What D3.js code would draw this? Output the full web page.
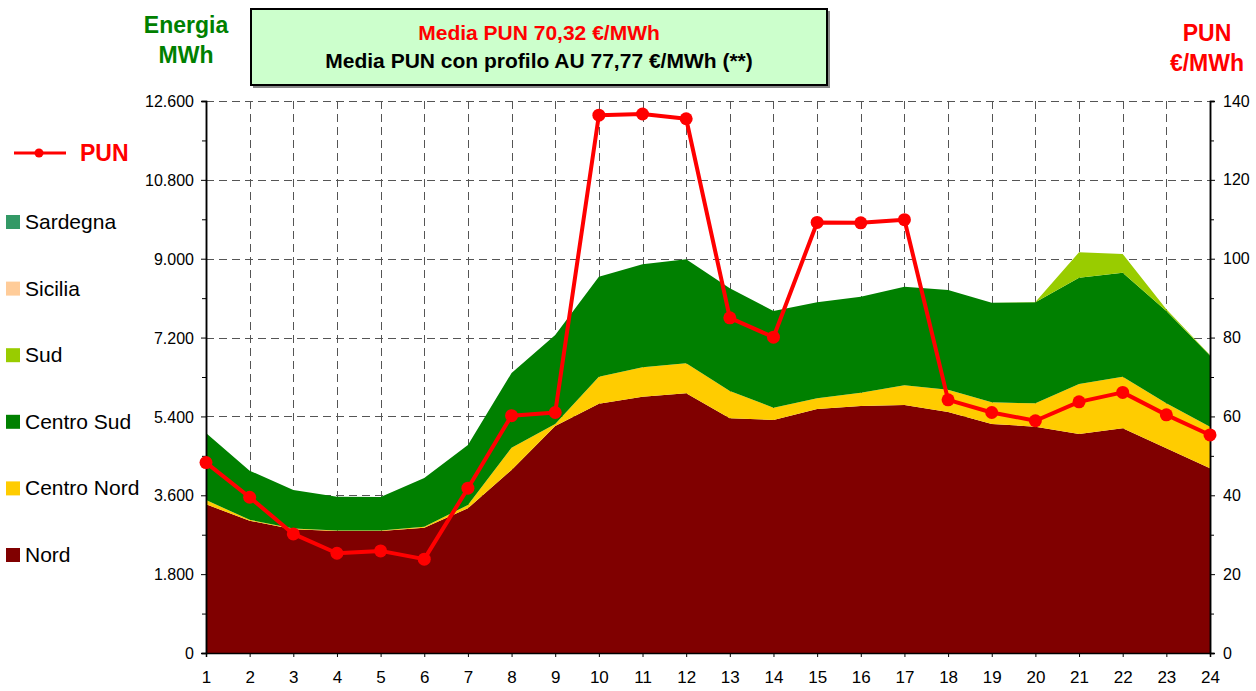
<!DOCTYPE html>
<html>
<head>
<meta charset="utf-8">
<script src="https://cdn.jsdelivr.net/npm/d3@7"></script>
<style>
  body { margin: 0; background: #fff; }
  svg { font-family: "Liberation Sans", Arial, sans-serif; }
</style>
</head>
<body>
<svg id="chart" width="1256" height="691"></svg>
<script>
const hours = d3.range(1, 25)

// MWh per zona
const nord = [3394, 3020, 2823, 2785, 2785, 2860, 3302, 4180, 5180, 5691, 5851, 5927, 5357, 5319, 5570, 5638, 5661, 5500, 5227, 5166, 4999, 5128, 4672, 4215]
const centroNord = [98, 20, 17, 10, 10, 20, 76, 507, 50, 616, 670, 685, 623, 281, 243, 304, 449, 510, 495, 533, 1141, 1179, 1027, 951]
const centroSud = [1530, 1122, 881, 773, 765, 1115, 1370, 1704, 2029, 2283, 2352, 2375, 2345, 2207, 2192, 2192, 2252, 2276, 2275, 2306, 2427, 2374, 2108, 1624]
const sud = [0, 0, 0, 0, 0, 0, 0, 0, 0, 0, 0, 0, 0, 0, 0, 0, 0, 0, 0, 5, 580, 427, 38, 12]
const sicilia = new Array(24).fill(0)
const sardegna = new Array(24).fill(0)

// PUN €/MWh
const pun = [48.3, 39.5, 30.2, 25.3, 25.9, 23.8, 41.8, 60.2, 61.0, 136.4, 136.7, 135.5, 85.0, 80.1, 109.2, 109.1, 109.9, 64.2, 61.0, 58.9, 63.7, 66.1, 60.4, 55.3]

const zones = ['Nord', 'Centro Nord', 'Centro Sud', 'Sud', 'Sicilia', 'Sardegna']
const zoneColors = ['#800000', '#ffcc00', '#008000', '#99cc00', '#ffcc99', '#339966']
const leftTicks = d3.range(0, 12601, 1800)
const rightTicks = d3.range(0, 141, 20)

const rows = hours.map((h, i) => ({
  hour: h,
  'Nord': nord[i],
  'Centro Nord': centroNord[i],
  'Centro Sud': centroSud[i],
  'Sud': sud[i],
  'Sicilia': sicilia[i],
  'Sardegna': sardegna[i]
}))

const svg = d3.select('#chart')
const x0 = 206, x1 = 1210, yTop = 101, yBot = 653

const x = d3.scaleLinear().domain([1, 24]).range([x0, x1])
const yL = d3.scaleLinear().domain([0, 12600]).range([yBot, yTop])
const yR = d3.scaleLinear().domain([0, 140]).range([yBot, yTop])

const fmt = d3.formatLocale({ decimal: ',', thousands: '.', grouping: [3], currency: ['', '€'] }).format(',d')

// griglia
const grid = svg.append('g')
  .attr('stroke', '#555')
  .attr('stroke-width', 1)
  .attr('stroke-dasharray', '8,5')
grid.selectAll('.hg')
  .data(leftTicks.filter(d => d > 0))
  .enter().append('line')
  .attr('x1', x0).attr('x2', x1)
  .attr('y1', d => Math.round(yL(d)) + 0.5)
  .attr('y2', d => Math.round(yL(d)) + 0.5)
grid.selectAll('.vg')
  .data(hours.slice(1, 23))
  .enter().append('line')
  .attr('y1', yTop).attr('y2', yBot)
  .attr('x1', d => Math.round(x(d)) + 0.5)
  .attr('x2', d => Math.round(x(d)) + 0.5)

// aree impilate
const stack = d3.stack().keys(zones)
const series = stack(rows)
const area = d3.area()
  .x(d => x(d.data.hour))
  .y0(d => yL(d[0]))
  .y1(d => yL(d[1]))

svg.append('g').selectAll('path')
  .data(series)
  .enter().append('path')
  .attr('d', area)
  .style('fill', (d, i) => zoneColors[i])

// assi
const axL = svg.append('g')
  .attr('transform', `translate(${x0},0)`)
  .call(d3.axisLeft(yL).tickValues(leftTicks).tickFormat(fmt).tickSize(5).tickPadding(7))
svg.append('g')
  .attr('transform', `translate(${x0},0)`)
  .call(d3.axisLeft(yL).tickValues(d3.range(900, 12600, 1800)).tickFormat('').tickSize(4))

const axR = svg.append('g')
  .attr('transform', `translate(${x1},0)`)
  .call(d3.axisRight(yR).tickValues(rightTicks).tickSize(5).tickPadding(8))
svg.append('g')
  .attr('transform', `translate(${x1},0)`)
  .call(d3.axisRight(yR).tickValues(d3.range(10, 140, 20)).tickFormat('').tickSize(4))

const axB = svg.append('g')
  .attr('transform', `translate(0,${yBot})`)
  .call(d3.axisBottom(x).tickValues(hours).tickFormat(d3.format('d')).tickSize(4).tickPadding(14))

svg.selectAll('.domain').attr('stroke', '#000').attr('stroke-width', 1.5)
svg.selectAll('.tick line').attr('stroke', '#000')
svg.selectAll('.tick text').style('font-size', '16px').attr('fill', '#000')
axB.selectAll('.tick text').style('font-size', '17px')
axL.selectAll('.tick text').attr('dy', '0.35em')

// linea PUN
const line = d3.line()
  .x((d, i) => x(hours[i]))
  .y(d => yR(d))

svg.append('path')
  .datum(pun)
  .attr('d', line)
  .style('fill', 'none')
  .style('stroke', '#ff0000')
  .style('stroke-width', 4)
  .style('stroke-linejoin', 'round')

svg.append('g').selectAll('circle')
  .data(pun)
  .enter().append('circle')
  .attr('cx', (d, i) => x(hours[i]))
  .attr('cy', d => yR(d))
  .attr('r', 6.5)
  .style('fill', '#ff0000')

// titoli assi
const energia = svg.append('text')
  .attr('text-anchor', 'middle')
  .style('font-weight', 'bold')
  .style('font-size', '23px')
  .style('fill', '#008000')
energia.append('tspan').attr('x', 186).attr('y', 33).text('Energia')
energia.append('tspan').attr('x', 186).attr('y', 63).text('MWh')

const punTitle = svg.append('text')
  .attr('text-anchor', 'middle')
  .style('font-weight', 'bold')
  .style('font-size', '23px')
  .style('fill', '#ff0000')
punTitle.append('tspan').attr('x', 1207).attr('y', 41).text('PUN')
punTitle.append('tspan').attr('x', 1207).attr('y', 71).text('€/MWh')

// box medie
svg.append('rect')
  .attr('x', 253).attr('y', 11)
  .attr('width', 577).attr('height', 77)
  .style('fill', '#888')
svg.append('rect')
  .attr('x', 251).attr('y', 9)
  .attr('width', 576).attr('height', 76)
  .style('fill', '#ccffcc')
  .style('stroke', '#000')
  .style('stroke-width', 2)
svg.append('text')
  .attr('x', 539).attr('y', 40)
  .attr('text-anchor', 'middle')
  .style('font-weight', 'bold').style('font-size', '21px')
  .style('fill', '#ff0000')
  .text('Media PUN 70,32 €/MWh')
svg.append('text')
  .attr('x', 539).attr('y', 68)
  .attr('text-anchor', 'middle')
  .style('font-weight', 'bold').style('font-size', '21px')
  .style('fill', '#000')
  .text('Media PUN con profilo AU 77,77 €/MWh (**)')

// legenda
const leg = svg.append('g')
leg.append('line')
  .attr('x1', 14).attr('x2', 66).attr('y1', 153).attr('y2', 153)
  .style('stroke', '#ff0000').style('stroke-width', 3)
leg.append('circle')
  .attr('cx', 39).attr('cy', 153).attr('r', 4.5)
  .style('fill', '#ff0000')
leg.append('text')
  .attr('x', 80).attr('y', 161)
  .style('font-weight', 'bold').style('font-size', '23px')
  .style('fill', '#ff0000')
  .text('PUN')

const legendZones = zones.slice().reverse()
const legendColors = zoneColors.slice().reverse()
const item = leg.selectAll('.item')
  .data(legendZones)
  .enter().append('g')
  .attr('transform', (d, i) => `translate(0,${222 + i * 66.6})`)
item.append('rect')
  .attr('x', 6).attr('y', -7)
  .attr('width', 14).attr('height', 14)
  .style('fill', (d, i) => legendColors[i])
item.append('text')
  .attr('x', 25).attr('y', 7)
  .style('font-size', '21px')
  .style('fill', '#000')
  .text(d => d)
</script>
</body>
</html>
